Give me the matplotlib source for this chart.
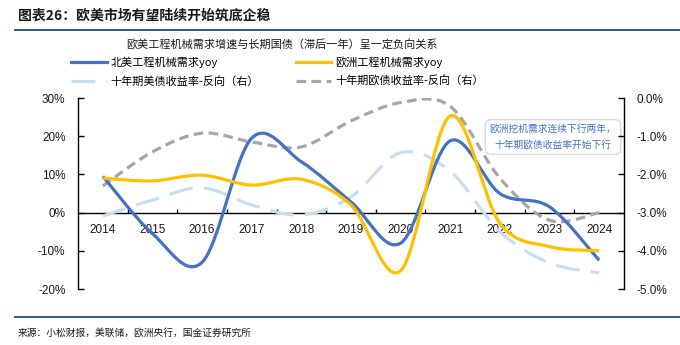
import numpy as np
import matplotlib
matplotlib.use('Agg')
import matplotlib.pyplot as plt
from matplotlib.path import Path
from matplotlib.patches import PathPatch
from matplotlib.lines import Line2D
from matplotlib.ticker import FixedLocator, FuncFormatter

plt.rcParams['font.family'] = ['Noto Sans CJK SC', 'DejaVu Sans']

# ---------------- data ----------------
years = ['2014', '2015', '2016', '2017', '2018', '2019', '2020', '2021', '2022', '2023', '2024']
na_yoy = [9.5, -5.5, -13.0, 19.5, 13.3, 2.8, -8.0, 18.8, 5.0, 1.5, -12.5]        # 北美工程机械需求yoy (%)
eu_yoy = [9.0, 8.3, 9.8, 7.2, 8.7, 2.0, -15.2, 25.3, -2.8, -8.9, -10.0]         # 欧洲工程机械需求yoy (%)
us10y_inv = [-3.09, -2.67, -2.35, -2.80, -3.06, -2.59, -1.43, -1.92, -3.50, -4.32, -4.58]  # 十年期美债收益率-反向 (%)
eu10y_inv = [-2.30, -1.41, -0.92, -1.15, -1.28, -0.60, -0.12, -0.22, -2.10, -3.20, -3.00]  # 十年期欧债收益率-反向 (%)

title_main = '图表26：欧美市场有望陆续开始筑底企稳'
chart_title = '欧美工程机械需求增速与长期国债（滞后一年）呈一定负向关系'
source = '来源：小松财报，美联储，欧洲央行，国金证券研究所'
note = '欧洲挖机需求连续下行两年，\n十年期欧债收益率开始下行'
labels = ['北美工程机械需求yoy', '欧洲工程机械需求yoy', '十年期美债收益率-反向（右）', '十年期欧债收益率-反向（右）']

C_NA = '#4472C4'
C_EU = '#FFC000'
C_US10 = '#C9DDF1'
C_EU10 = '#A6A6A6'

W, H = 680, 345


def smooth_path(x, y):
    x = np.asarray(x, float)
    y = np.asarray(y, float)
    n = len(x)
    verts = [(x[0], y[0])]
    codes = [Path.MOVETO]
    for i in range(n - 1):
        i0 = max(i - 1, 0)
        i3 = min(i + 2, n - 1)
        c1 = (x[i] + (x[i + 1] - x[i0]) / 6, y[i] + (y[i + 1] - y[i0]) / 6)
        c2 = (x[i + 1] - (x[i3] - x[i]) / 6, y[i + 1] - (y[i3] - y[i]) / 6)
        verts += [c1, c2, (x[i + 1], y[i + 1])]
        codes += [Path.CURVE4] * 3
    return Path(verts, codes)


fig = plt.figure(figsize=(W / 100, H / 100), dpi=100)
fig.patch.set_facecolor('white')

x0, x1, ytop, ybot = 78, 624, 98, 289
ax = fig.add_axes([x0 / W, 1 - ybot / H, (x1 - x0) / W, (ybot - ytop) / H])
ax2 = ax.twinx()

xs = np.arange(len(years))
ax.set_xlim(-0.5, len(years) - 0.5)
ax.set_ylim(-20, 30)
ax2.set_ylim(-5, 0)

lw = 2.3
US_DASH = (0, (7.5, 3.5))
EU_DASH = (0, (3, 1.7))
# right-axis series
ax2.add_patch(PathPatch(smooth_path(xs, us10y_inv), fill=False, ec=C_US10, lw=lw,
                        ls=US_DASH, capstyle='butt', zorder=1))
ax2.add_patch(PathPatch(smooth_path(xs, eu10y_inv), fill=False, ec=C_EU10, lw=lw,
                        ls=EU_DASH, capstyle='butt', zorder=2))
# left-axis series (drawn on top layer, in left-axis data coordinates)
ax2.add_patch(PathPatch(smooth_path(xs, na_yoy), fill=False, ec=C_NA, lw=lw, zorder=3,
                        transform=ax.transData))
ax2.add_patch(PathPatch(smooth_path(xs, eu_yoy), fill=False, ec=C_EU, lw=lw, zorder=4,
                        transform=ax.transData))

# axes styling
for a in (ax, ax2):
    a.patch.set_visible(False)
    a.spines['top'].set_visible(False)
ax.spines['right'].set_visible(False)
ax2.spines['left'].set_visible(False)
ax2.spines['bottom'].set_visible(False)
ax.spines['bottom'].set_position(('data', 0))
for s in ('left', 'bottom'):
    ax.spines[s].set_color('#000000')
    ax.spines[s].set_linewidth(1.0)
ax2.spines['right'].set_color('#000000')
ax2.spines['right'].set_linewidth(1.0)

ax.set_yticks([-20, -10, 0, 10, 20, 30])
ax.yaxis.set_major_formatter(FuncFormatter(lambda v, p: f'{v:.0f}%'))
ax2.set_yticks([-5, -4, -3, -2, -1, 0])
ax2.yaxis.set_major_formatter(FuncFormatter(lambda v, p: f'{v:.1f}%'))

ax.set_xticks(xs)
ax.set_xticklabels(years)
ax.xaxis.set_minor_locator(FixedLocator(np.arange(0.5, len(years) - 1, 1.0)))
ax.tick_params(axis='x', which='major', length=0, pad=8, labelsize=8.5)
ax.tick_params(axis='x', which='minor', length=3, direction='in', width=1)
ax.tick_params(axis='y', direction='in', length=4, width=1, pad=9, labelsize=8.5)
ax2.tick_params(axis='y', direction='in', length=4, width=1, pad=9, labelsize=8.5)
for lab in ax.get_xticklabels() + ax.get_yticklabels() + ax2.get_yticklabels():
    lab.set_fontfamily(['Liberation Sans', 'DejaVu Sans'])
    lab.set_color('#1a1a1a')

# annotation box
ax.text((553 - x0) / (x1 - x0), 1 - (137 - ytop) / (ybot - ytop), note,
        transform=ax.transAxes, ha='center', va='center', fontsize=7,
        color='#4472C4', linespacing=1.75, zorder=10,
        bbox=dict(boxstyle='round,pad=0.45,rounding_size=0.6', fc='white', ec='#D3DBEA', lw=1.0))

# legend
handles = [
    Line2D([], [], color=C_NA, lw=lw),
    Line2D([], [], color=C_US10, lw=lw, ls=US_DASH, dash_capstyle='butt'),
    Line2D([], [], color=C_EU, lw=lw),
    Line2D([], [], color=C_EU10, lw=lw, ls=EU_DASH, dash_capstyle='butt'),
]
leg_labels = [labels[0], labels[2], labels[1], labels[3]]
fig.legend(handles, leg_labels, loc='upper left', bbox_to_anchor=(71 / W, 1 - 56.5 / H),
           ncol=2, frameon=False, fontsize=8, handlelength=3.2, handletextpad=0.35,
           columnspacing=3.3, labelspacing=0.68, borderpad=0, borderaxespad=0)

# titles / texts
fig.text(18 / W, 1 - 16 / H, title_main, fontsize=10, fontweight='bold', color='#1a1a1a',
         ha='left', va='center')
fig.text(282 / W, 1 - 45 / H, chart_title, fontsize=8, color='#1a1a1a', ha='center', va='center')
fig.text(18 / W, 1 - 333 / H, source, fontsize=7, color='#1a1a1a', ha='left', va='center')

fig.add_artist(Line2D([15 / W, 1], [1 - 29.5 / H] * 2, color='#1F4E79', lw=1.3))
fig.add_artist(Line2D([15 / W, 1], [1 - 317 / H] * 2, color='#1F4E79', lw=1.3))

fig.savefig('out.png', dpi=100, facecolor='white')
